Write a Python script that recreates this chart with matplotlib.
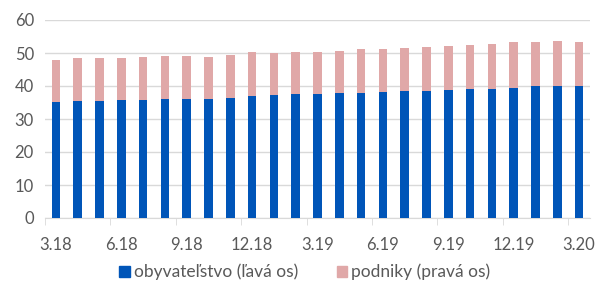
import numpy as np
import matplotlib.pyplot as plt
from matplotlib.patches import Patch

plt.rcParams['font.family'] = ['Lato', 'DejaVu Sans']

months = ['3.18', '4.18', '5.18', '6.18', '7.18', '8.18', '9.18', '10.18', '11.18',
          '12.18', '1.19', '2.19', '3.19', '4.19', '5.19', '6.19', '7.19', '8.19',
          '9.19', '10.19', '11.19', '12.19', '1.20', '2.20', '3.20']
households = [35.2, 35.6, 35.5, 35.9, 35.9, 36.0, 36.1, 36.2, 36.4, 36.9, 37.2, 37.5,
              37.7, 37.9, 38.0, 38.3, 38.6, 38.6, 38.8, 39.0, 39.0, 39.5, 39.9, 40.1, 40.1]
totals = [47.8, 48.4, 48.5, 48.4, 48.8, 49.0, 49.0, 48.8, 49.4, 50.3, 50.0, 50.3,
          50.3, 50.6, 51.2, 51.2, 51.5, 51.8, 52.1, 52.4, 52.6, 53.4, 53.2, 53.6, 53.4]
companies = [t - h for t, h in zip(totals, households)]

blue = '#0055B8'
pink = '#E0A8A8'
grey = '#595959'

fig = plt.figure(figsize=(5.98, 2.85), dpi=100)
ax = fig.add_axes([45 / 598, 67 / 285, 545 / 598, 198 / 285])

x = np.arange(len(months))
ax.bar(x, households, 0.4, color=blue, zorder=3)
ax.bar(x, companies, 0.4, bottom=households, color=pink, zorder=3)

ax.set_ylim(0, 60)
ax.set_xlim(-0.5, len(months) - 0.5)
ax.set_yticks(range(0, 61, 10))
ax.yaxis.grid(True, color='#D9D9D9', linewidth=1, zorder=0)

ax.set_xticks(x[::3])
ax.set_xticklabels(months[::3])
ax.set_xticks(np.arange(-0.5, len(months), 3), minor=True)
ax.tick_params(axis='x', which='major', length=0, pad=14, labelsize=12, labelcolor=grey)
ax.tick_params(axis='x', which='minor', length=5, color='#D9D9D9')
ax.tick_params(axis='y', length=0, pad=8, labelsize=12, labelcolor=grey)

for s in ['top', 'right', 'left']:
    ax.spines[s].set_visible(False)
ax.spines['bottom'].set_color('#D9D9D9')

handles = [Patch(color=blue, label='obyvateľstvo (ľavá os)'),
           Patch(color=pink, label='podniky (pravá os)')]
fig.legend(handles=handles, loc='center', bbox_to_anchor=(0.51, 13 / 285), ncol=2,
           frameon=False, fontsize=12.5, handlelength=0.6, handleheight=0.6,
           handletextpad=0.25, columnspacing=2.2, labelcolor=grey)

fig.savefig('out.png', dpi=100)
